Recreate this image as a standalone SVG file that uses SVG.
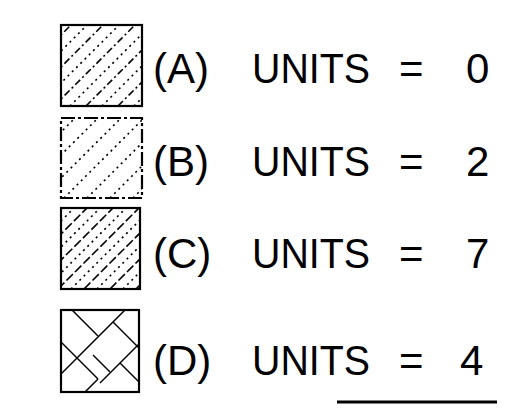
<svg xmlns="http://www.w3.org/2000/svg" width="517" height="415" viewBox="0 0 517 415">
<style>
.box{fill:none;stroke:#000;stroke-width:2.2}
.h1{stroke:#000;stroke-width:1.6;stroke-dasharray:7 3 2 3}
.h2{stroke:#000;stroke-width:1.6;stroke-dasharray:2 4}
.h3{stroke:#000;stroke-width:1.6;stroke-dasharray:9 3}
.hd{stroke:#000;stroke-width:1.5;fill:none}
text{font-family:"Liberation Sans",Arial,sans-serif;font-size:42px;fill:#000}
</style>
<defs>
<clipPath id="cA"><rect x="61" y="25" width="81" height="81"/></clipPath>
<clipPath id="cB"><rect x="61" y="118" width="81" height="80"/></clipPath>
<clipPath id="cC"><rect x="61" y="208" width="79" height="81"/></clipPath>
<clipPath id="cD"><rect x="61" y="310" width="78" height="82"/></clipPath>
</defs>
<rect width="517" height="415" fill="#fff"/>
<g id="nodeA">
<g clip-path="url(#cA)">
<line class="h1" x1="-10" y1="106" x2="71" y2="25"/>
<line class="h2" x1="6" y1="106" x2="87" y2="25"/>
<line class="h1" x1="22" y1="106" x2="103" y2="25"/>
<line class="h2" x1="38" y1="106" x2="119" y2="25"/>
<line class="h1" x1="54" y1="106" x2="135" y2="25"/>
<line class="h2" x1="70" y1="106" x2="151" y2="25"/>
<line class="h1" x1="86" y1="106" x2="167" y2="25"/>
<line class="h2" x1="102" y1="106" x2="183" y2="25"/>
<line class="h1" x1="118" y1="106" x2="199" y2="25"/>
<line class="h2" x1="134" y1="106" x2="215" y2="25"/>
</g>
<rect class="box" x="61" y="25" width="81" height="81"/>
<text x="153" y="83">(A)</text><text x="252" y="83" textLength="118" lengthAdjust="spacingAndGlyphs">UNITS</text><text x="399" y="83">=</text><text x="466" y="83">0</text>
</g>
<g id="nodeB">
<g clip-path="url(#cB)">
<line class="h2" x1="-5" y1="198" x2="75" y2="118"/>
<line class="h2" x1="18" y1="198" x2="98" y2="118"/>
<line class="h2" x1="41" y1="198" x2="121" y2="118"/>
<line class="h2" x1="64" y1="198" x2="144" y2="118"/>
<line class="h2" x1="87" y1="198" x2="167" y2="118"/>
<line class="h2" x1="110" y1="198" x2="190" y2="118"/>
<line class="h2" x1="133" y1="198" x2="213" y2="118"/>
</g>
<rect class="box" x="61" y="118" width="81" height="80" stroke-dasharray="14 3 3 3"/>
<text x="153" y="176">(B)</text><text x="252" y="176" textLength="118" lengthAdjust="spacingAndGlyphs">UNITS</text><text x="399" y="176">=</text><text x="466" y="176">2</text>
</g>
<g id="nodeC">
<g clip-path="url(#cC)">
<line class="h3" x1="-20" y1="289" x2="61" y2="208"/>
<line class="h2" x1="-7" y1="289" x2="74" y2="208"/>
<line class="h3" x1="6" y1="289" x2="87" y2="208"/>
<line class="h2" x1="19" y1="289" x2="100" y2="208"/>
<line class="h3" x1="32" y1="289" x2="113" y2="208"/>
<line class="h2" x1="45" y1="289" x2="126" y2="208"/>
<line class="h3" x1="58" y1="289" x2="139" y2="208"/>
<line class="h2" x1="71" y1="289" x2="152" y2="208"/>
<line class="h3" x1="84" y1="289" x2="165" y2="208"/>
<line class="h2" x1="97" y1="289" x2="178" y2="208"/>
<line class="h3" x1="110" y1="289" x2="191" y2="208"/>
<line class="h2" x1="123" y1="289" x2="204" y2="208"/>
<line class="h3" x1="136" y1="289" x2="217" y2="208"/>
</g>
<rect class="box" x="61" y="208" width="79" height="81"/>
<text x="153" y="268">(C)</text><text x="252" y="268" textLength="118" lengthAdjust="spacingAndGlyphs">UNITS</text><text x="399" y="268">=</text><text x="466" y="268">7</text>
</g>
<g id="nodeD">
<g clip-path="url(#cD)">
<line class="hd" x1="125" y1="310" x2="77" y2="358"/>
<line class="hd" x1="72" y1="310" x2="98" y2="336"/>
<line class="hd" x1="113" y1="322" x2="139" y2="348"/>
<line class="hd" x1="61" y1="342" x2="98" y2="379"/>
<line class="hd" x1="139" y1="344" x2="100" y2="383"/>
<line class="hd" x1="93" y1="355" x2="110" y2="372"/>
<line class="hd" x1="77" y1="358" x2="61" y2="374"/>
<line class="hd" x1="120" y1="363" x2="139" y2="382"/>
<line class="hd" x1="98" y1="379" x2="85" y2="392"/>
</g>
<rect class="box" x="61" y="310" width="78" height="82"/>
<text x="153" y="375">(D)</text><text x="252" y="375" textLength="118" lengthAdjust="spacingAndGlyphs">UNITS</text><text x="399" y="375">=</text><text x="460" y="375">4</text>
</g>
<g id="connectors">
<line x1="337" y1="402" x2="497" y2="402" stroke="#000" stroke-width="3"/>
</g>
</svg>
